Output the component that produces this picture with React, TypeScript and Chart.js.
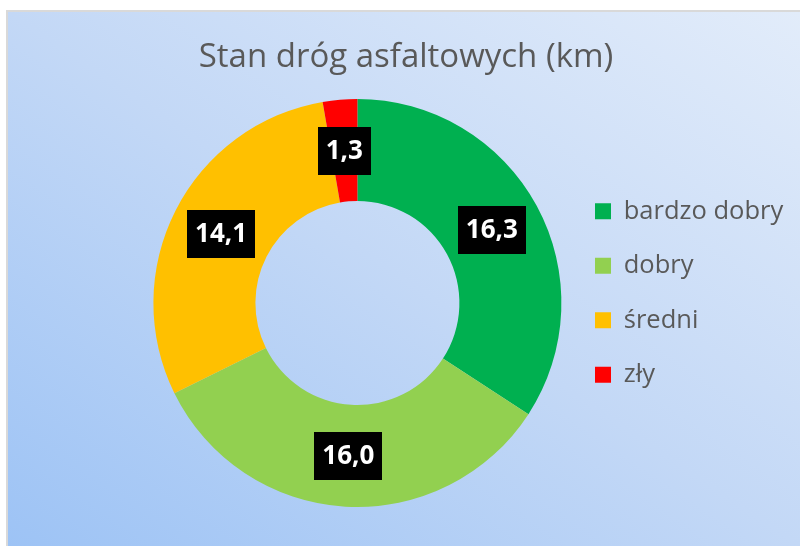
import React, { useEffect, useRef } from "react";
import { Chart, registerables } from "chart.js";

Chart.register(...registerables);

const categories = ["bardzo dobry", "dobry", "średni", "zły"];
const values = [16.3, 16.0, 14.1, 1.3];
const colors = ["#00B050", "#92D050", "#FFC000", "#FF0000"];
const titleText = "Stan dróg asfaltowych (km)";

const FONT = "'Open Sans', 'Noto Sans', sans-serif";
const LEGEND_PAD = 29;

const labelPlugin = {
  id: "boxLabels",
  afterDatasetsDraw(chart: any) {
    const ctx = chart.ctx;
    const meta = chart.getDatasetMeta(0);
    ctx.save();
    ctx.font = `bold 26px ${FONT}`;
    ctx.textAlign = "center";
    ctx.textBaseline = "middle";
    meta.data.forEach((arc: any, i: number) => {
      const p = arc.tooltipPosition();
      const txt = values[i].toFixed(1).replace(".", ",");
      const w = ctx.measureText(txt).width;
      const bw = w + 16;
      const bh = 48;
      ctx.fillStyle = "#000000";
      ctx.fillRect(Math.round(p.x - bw / 2), Math.round(p.y - bh / 2), Math.round(bw), bh);
      ctx.fillStyle = "#FFFFFF";
      ctx.fillText(txt, p.x, p.y + 1);
    });
    ctx.restore();
  },
};

const titlePlugin = {
  id: "customTitle",
  afterDraw(chart: any) {
    const ctx = chart.ctx;
    ctx.save();
    ctx.font = `33px ${FONT}`;
    ctx.fillStyle = "#595959";
    ctx.textAlign = "center";
    ctx.textBaseline = "middle";
    ctx.fillText(titleText, 398, 46);
    ctx.restore();
  },
};

const legendPlace = {
  id: "legendPlace",
  afterLayout(chart: any) {
    const lg = chart.legend;
    if (!lg) return;
    const w = lg.width;
    lg.left = 587 - LEGEND_PAD;
    lg.right = lg.left + w;
    const h = lg.height;
    lg.top = 77;
    lg.bottom = lg.top + h;
  },
};

export default function App() {
  const ref = useRef<HTMLCanvasElement | null>(null);
  useEffect(() => {
    if (!ref.current) return;
    const chart = new Chart(ref.current, {
      type: "doughnut",
      data: {
        labels: categories,
        datasets: [
          {
            data: values,
            backgroundColor: colors,
            borderWidth: 0,
          },
        ],
      },
      options: {
        animation: false,
        responsive: false,
        cutout: "50%",
        layout: { padding: { left: 134, right: 0, top: 87, bottom: 39 } },
        plugins: {
          tooltip: { enabled: false },
          title: { display: false },
          legend: {
            position: "right",
            labels: {
              color: "#595959",
              font: { family: FONT, size: 25.5 },
              boxWidth: 16,
              boxHeight: 16,
              padding: LEGEND_PAD,
            },
          },
        },
      },
      plugins: [labelPlugin, titlePlugin, legendPlace],
    });
    return () => chart.destroy();
  }, []);
  return (
    <div style={{ position: "fixed", left: 0, top: 0, width: 800, height: 546, background: "#FFFFFF" }}>
      <div
        style={{
          position: "absolute",
          left: 6,
          top: 10,
          width: 792,
          height: 534,
          borderLeft: "2px solid #D9D9D9",
          borderTop: "2px solid #D9D9D9",
          background: "linear-gradient(to top right, #9DC3F5 0%, #C3D8F6 50%, #E2ECFA 100%)",
        }}
      >
        <canvas ref={ref} width={792} height={534} style={{ display: "block", width: 792, height: 534 }} />
      </div>
    </div>
  );
}
